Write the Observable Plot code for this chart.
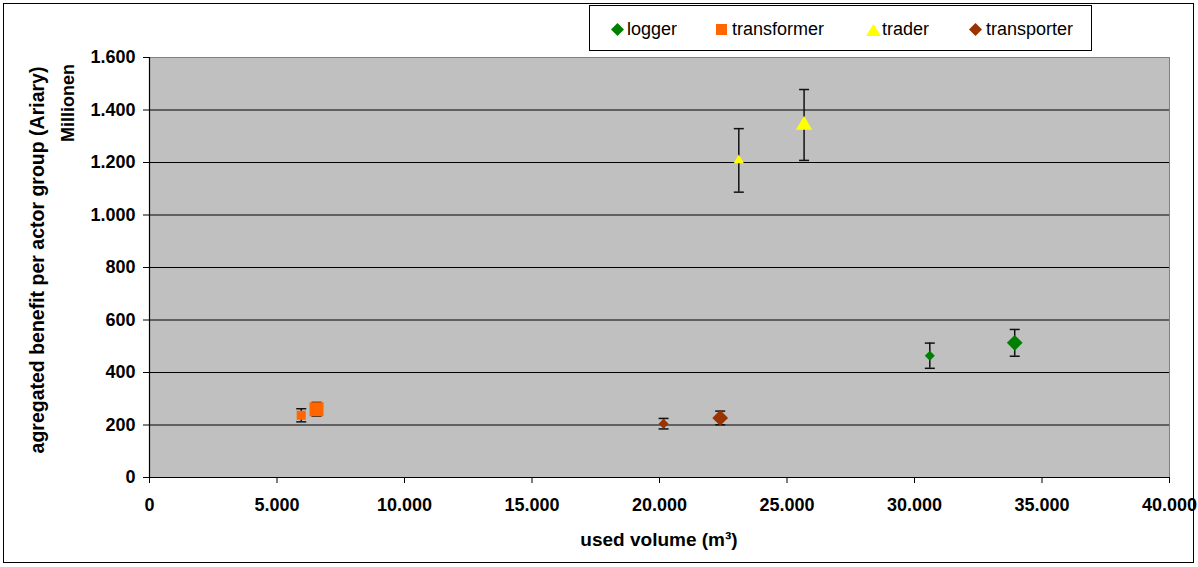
<!DOCTYPE html>
<html><head><meta charset="utf-8">
<script src="https://cdn.jsdelivr.net/npm/d3@7"></script>
<script src="https://cdn.jsdelivr.net/npm/@observablehq/plot@0.6"></script>
<style>
html,body{margin:0;padding:0;background:#fff;}
#wrap{position:relative;width:1198px;height:567px;font-family:"Liberation Sans",Arial,sans-serif;overflow:hidden;}
#border{position:absolute;left:3px;top:3px;width:1191px;height:560px;border:1.5px solid #000;box-sizing:border-box;pointer-events:none;}
.lbl{position:absolute;font-weight:bold;font-size:18px;white-space:nowrap;color:#000;}
#ylab{left:37px;top:260px;font-size:19.5px;transform:translate(-50%,-50%) rotate(-90deg);}
#mil{left:68px;top:103px;transform:translate(-50%,-50%) rotate(-90deg);}
#xlab{left:659px;top:540px;font-size:19px;transform:translate(-50%,-50%);}
#legend{position:absolute;left:589px;top:5px;width:503px;height:46px;border:1.5px solid #000;box-sizing:border-box;background:#fff;}
.item{position:absolute;top:1px;height:44px;display:flex;align-items:center;font-size:18px;color:#000;}
#chart{position:absolute;left:0;top:0;}
</style></head>
<body>
<div id="wrap">
  <div id="chart"></div>
  <div id="border"></div>
  <div class="lbl" id="ylab">agregated benefit per actor group (Ariary)</div>
  <div class="lbl" id="mil">Millionen</div>
  <div class="lbl" id="xlab">used volume (m³)</div>
  <div id="legend"></div>
</div>
<script>
// ---- data ----
const series = ["logger", "transformer", "trader", "transporter"];
const loggerVolume = [30600, 33930];
const loggerBenefit = [464, 513];
const loggerError = [48, 51];
const transformerVolume = [5950, 6550];
const transformerBenefit = [237, 260];
const transformerError = [25, 26];
const traderVolume = [23110, 25670];
const traderBenefit = [1208, 1343];
const traderError = [121, 135];
const transporterVolume = [20160, 22380];
const transporterBenefit = [205, 227];
const transporterError = [20, 26];
const xTicks = [0, 5000, 10000, 15000, 20000, 25000, 30000, 35000, 40000];
const yTicks = [0, 200, 400, 600, 800, 1000, 1200, 1400, 1600];

// ---- styles ----
const colors = {logger: "#008000", transformer: "#FF6600", trader: "#FFFF00", transporter: "#993300"};
const symbols = {logger: "diamond2", transformer: "square", trader: "triangle", transporter: "diamond2"};
const radii = {logger: [4.5, 7.1], transformer: [5.1, 7.9], trader: [3.8, 6.0], transporter: [4.5, 7.1]};

const raw = {
  logger: [loggerVolume, loggerBenefit, loggerError],
  transformer: [transformerVolume, transformerBenefit, transformerError],
  trader: [traderVolume, traderBenefit, traderError],
  transporter: [transporterVolume, transporterBenefit, transporterError]
};
const rows = [];
for (const s of series) {
  const [xs, ys, es] = raw[s];
  xs.forEach((x, i) => rows.push({series: s, idx: i, x, y: ys[i], lo: ys[i] - es[i], hi: ys[i] + es[i]}));
}

const fmt = d3.formatLocale({decimal: ",", thousands: ".", grouping: [3], currency: ["", ""]}).format(",");
const cap = {draw(ctx) { ctx.moveTo(-5, 0); ctx.lineTo(5, 0); }};

const markerMarks = series.map(s => Plot.dot(rows.filter(d => d.series === s), {
  x: "x", y: "y", symbol: symbols[s], fill: colors[s], stroke: "none",
  r: d => radii[s][d.idx]
}));

const chart = Plot.plot({
  width: 1198, height: 567,
  marginLeft: 149, marginRight: 29, marginTop: 57, marginBottom: 90,
  style: {fontFamily: "'Liberation Sans', Arial, sans-serif", fontSize: "18px", fontWeight: "bold", color: "black", background: "transparent", overflow: "visible"},
  x: {domain: [0, 40000]},
  y: {domain: [0, 1600]},
  r: {type: "identity"},
  marks: [
    Plot.frame({fill: "#c0c0c0", stroke: "#808080", strokeWidth: 1}),
    Plot.ruleY(yTicks.filter(v => v > 0 && v < 1600), {stroke: "black", strokeWidth: 1.2, strokeOpacity: 1}),
    Plot.axisY({ticks: yTicks, tickFormat: fmt, tickSize: 6, tickPadding: 8, label: null, stroke: "black", strokeOpacity: 1}),
    Plot.axisX({ticks: xTicks, tickFormat: fmt, tickSize: 6, tickPadding: 15, label: null, stroke: "black", strokeOpacity: 1}),
    Plot.ruleX([0], {stroke: "black", strokeWidth: 1.2}),
    Plot.ruleY([0], {stroke: "black", strokeWidth: 1.2}),
    Plot.ruleX(rows, {x: "x", y1: "lo", y2: "hi", stroke: "#111", strokeWidth: 1.5}),
    Plot.dot(rows, {x: "x", y: "hi", symbol: cap, stroke: "#111", strokeWidth: 1.5, r: 5}),
    Plot.dot(rows, {x: "x", y: "lo", symbol: cap, stroke: "#111", strokeWidth: 1.5, r: 5}),
    ...markerMarks
  ]
});
document.getElementById("chart").appendChild(chart);

// ---- legend ----
const legendPos = {logger: 21, transformer: 126, trader: 276, transporter: 379};
const legendGap = {logger: 3, transformer: 5, trader: 1, transporter: 4};
const symPath = {
  logger: "M6.5,0L13,6.5L6.5,13L0,6.5Z",
  transformer: "M0,1H11V12H0Z",
  trader: "M7.5,1L15,13H0Z",
  transporter: "M6.5,0L13,6.5L6.5,13L0,6.5Z"
};
const symW = {logger: 13, transformer: 11, trader: 15, transporter: 13};
const legend = document.getElementById("legend");
for (const s of series) {
  const it = document.createElement("div");
  it.className = "item";
  it.style.left = legendPos[s] + "px";
  it.innerHTML = `<svg width="${symW[s]}" height="13" style="margin-right:${legendGap[s]}px"><path d="${symPath[s]}" fill="${colors[s]}"/></svg><span>${s}</span>`;
  legend.appendChild(it);
}
</script>
</body></html>
